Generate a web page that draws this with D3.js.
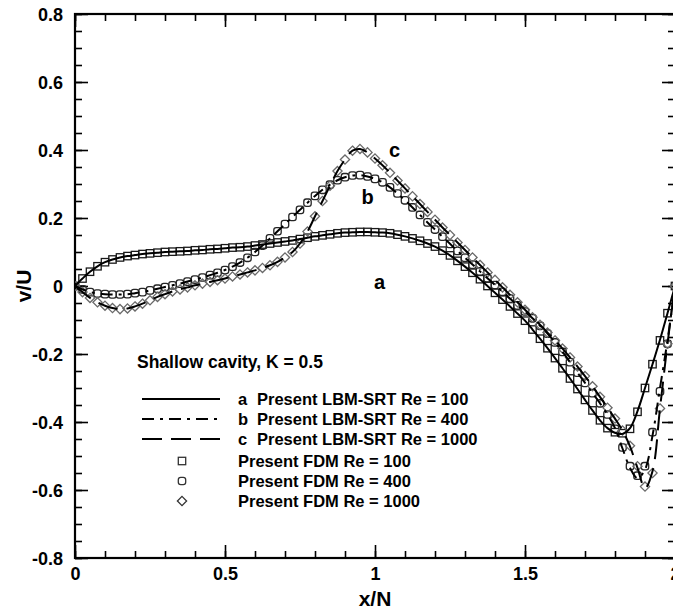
<!DOCTYPE html>
<html>
<head>
<meta charset="utf-8">
<script src="https://cdn.jsdelivr.net/npm/d3@7"></script>
<style>
  html, body { margin: 0; padding: 0; background: #fff; }
  svg { display: block; }
  text { font-family: "Liberation Sans", Arial, sans-serif; font-weight: bold; fill: #000; }
</style>
</head>
<body>
<script>
// x/N sample positions shared by every series (step 0.025 from 0 to 2)
const xGrid = d3.range(81).map(i => i * 0.025);

// Present FDM results, v/U at each xGrid position
const fdm100 = [
  0, 0.022, 0.042, 0.058, 0.070, 0.078, 0.084, 0.088, 0.091, 0.094,
  0.096, 0.098, 0.100, 0.101, 0.102, 0.103, 0.105, 0.106, 0.108, 0.109,
  0.111, 0.113, 0.114, 0.116, 0.119, 0.122, 0.125, 0.128, 0.131, 0.134,
  0.138, 0.142, 0.146, 0.149, 0.152, 0.155, 0.157, 0.158, 0.159, 0.159,
  0.158, 0.157, 0.155, 0.151, 0.146, 0.140, 0.133, 0.125, 0.116, 0.104,
  0.090, 0.074, 0.057, 0.039, 0.020, 0.000, -0.020, -0.040, -0.060, -0.081,
  -0.102, -0.128, -0.155, -0.183, -0.212, -0.242, -0.272, -0.303, -0.335, -0.366,
  -0.395, -0.418, -0.430, -0.433, -0.420, -0.370, -0.300, -0.230, -0.160, -0.080,
  0
];
const fdm400 = [
  0, -0.010, -0.018, -0.022, -0.024, -0.025, -0.025, -0.024, -0.021, -0.018,
  -0.013, -0.008, -0.003, 0.002, 0.007, 0.013, 0.019, 0.025, 0.032, 0.039,
  0.047, 0.057, 0.069, 0.083, 0.100, 0.119, 0.140, 0.161, 0.182, 0.203,
  0.224, 0.245, 0.265, 0.283, 0.298, 0.311, 0.320, 0.325, 0.326, 0.322,
  0.315, 0.305, 0.290, 0.272, 0.252, 0.231, 0.209, 0.187, 0.166, 0.145,
  0.124, 0.103, 0.083, 0.063, 0.043, 0.023, 0.003, -0.017, -0.037, -0.057,
  -0.075, -0.095, -0.117, -0.140, -0.166, -0.194, -0.224, -0.255, -0.285, -0.315,
  -0.345, -0.378, -0.420, -0.475, -0.530, -0.558, -0.530, -0.430, -0.310, -0.170,
  0
];
const fdm1000 = [
  0, -0.018, -0.035, -0.048, -0.058, -0.065, -0.068, -0.066, -0.060, -0.052,
  -0.042, -0.032, -0.024, -0.016, -0.010, -0.004, 0.002, 0.007, 0.012, 0.017,
  0.022, 0.028, 0.034, 0.040, 0.046, 0.053, 0.061, 0.071, 0.084, 0.100,
  0.125, 0.160, 0.205, 0.250, 0.295, 0.338, 0.372, 0.398, 0.403, 0.393,
  0.375, 0.355, 0.333, 0.310, 0.287, 0.264, 0.241, 0.218, 0.195, 0.172,
  0.150, 0.128, 0.106, 0.084, 0.062, 0.040, 0.018, -0.004, -0.026, -0.048,
  -0.070, -0.092, -0.114, -0.137, -0.160, -0.184, -0.210, -0.237, -0.265, -0.295,
  -0.326, -0.358, -0.390, -0.425, -0.470, -0.530, -0.590, -0.550, -0.360, -0.170,
  0
];

// Present LBM-SRT results, v/U at each xGrid position
const lbm100 = [
  0, 0.022, 0.042, 0.058, 0.070, 0.078, 0.084, 0.088, 0.091, 0.094,
  0.096, 0.098, 0.100, 0.101, 0.102, 0.103, 0.105, 0.106, 0.108, 0.109,
  0.111, 0.113, 0.114, 0.116, 0.119, 0.122, 0.125, 0.128, 0.131, 0.134,
  0.138, 0.142, 0.146, 0.149, 0.152, 0.155, 0.157, 0.158, 0.159, 0.159,
  0.158, 0.157, 0.155, 0.151, 0.146, 0.140, 0.133, 0.125, 0.116, 0.104,
  0.090, 0.074, 0.057, 0.039, 0.020, 0.000, -0.020, -0.040, -0.060, -0.081,
  -0.102, -0.128, -0.155, -0.183, -0.212, -0.242, -0.272, -0.303, -0.335, -0.366,
  -0.395, -0.418, -0.432, -0.435, -0.418, -0.368, -0.300, -0.230, -0.158, -0.080,
  0
];
const lbm400 = [
  0, -0.010, -0.018, -0.022, -0.024, -0.025, -0.025, -0.024, -0.021, -0.018,
  -0.013, -0.008, -0.003, 0.002, 0.007, 0.013, 0.019, 0.025, 0.032, 0.039,
  0.047, 0.057, 0.069, 0.083, 0.100, 0.119, 0.140, 0.161, 0.182, 0.203,
  0.224, 0.245, 0.265, 0.283, 0.298, 0.311, 0.320, 0.325, 0.326, 0.322,
  0.315, 0.305, 0.290, 0.272, 0.252, 0.231, 0.209, 0.187, 0.166, 0.145,
  0.124, 0.103, 0.083, 0.063, 0.043, 0.023, 0.003, -0.017, -0.037, -0.057,
  -0.075, -0.095, -0.117, -0.140, -0.166, -0.194, -0.224, -0.255, -0.285, -0.315,
  -0.345, -0.378, -0.418, -0.478, -0.535, -0.565, -0.540, -0.440, -0.300, -0.160,
  0
];
const lbm1000 = [
  0, -0.018, -0.035, -0.048, -0.058, -0.065, -0.068, -0.066, -0.060, -0.052,
  -0.042, -0.032, -0.024, -0.016, -0.010, -0.004, 0.002, 0.007, 0.012, 0.017,
  0.022, 0.028, 0.034, 0.040, 0.046, 0.053, 0.061, 0.071, 0.084, 0.100,
  0.125, 0.160, 0.205, 0.250, 0.295, 0.338, 0.372, 0.398, 0.403, 0.393,
  0.375, 0.355, 0.333, 0.310, 0.287, 0.264, 0.241, 0.218, 0.195, 0.172,
  0.150, 0.128, 0.106, 0.084, 0.062, 0.040, 0.018, -0.004, -0.026, -0.048,
  -0.070, -0.092, -0.114, -0.137, -0.160, -0.184, -0.210, -0.237, -0.265, -0.295,
  -0.326, -0.358, -0.390, -0.425, -0.472, -0.535, -0.595, -0.545, -0.360, -0.170,
  0
];

const xTicks = [0, 0.5, 1, 1.5, 2];
const xTickLabels = ["0", "0.5", "1", "1.5", "2"];
const yTicks = [-0.8, -0.6, -0.4, -0.2, 0, 0.2, 0.4, 0.6, 0.8];
const yTickLabels = ["-0.8", "-0.6", "-0.4", "-0.2", "0", "0.2", "0.4", "0.6", "0.8"];
const curveNames = ["a", "b", "c"];
const curveLabelAt = [[1.015, -0.01], [0.975, 0.24], [1.065, 0.38]]; // [x/N, v/U] of the a, b, c letters
const lbmLegend = ["Present LBM-SRT Re = 100", "Present LBM-SRT Re = 400", "Present LBM-SRT Re = 1000"];
const fdmLegend = ["Present FDM Re = 100", "Present FDM Re = 400", "Present FDM Re = 1000"];
const legendTitle = "Shallow cavity, K = 0.5";

const W = 673, H = 610;
const plot = { left: 75, top: 14, right: 675, bottom: 558 };

const svg = d3.select("body").append("svg").attr("width", W).attr("height", H);

const x = d3.scaleLinear().domain([0, 2]).range([plot.left, plot.right]);
const y = d3.scaleLinear().domain([-0.8, 0.8]).range([plot.bottom, plot.top]);

const lineStyles = [
  { dash: null },
  { dash: "12,6,3,6" },
  { dash: "20,9" }
];

const lbmSeries = [lbm100, lbm400, lbm1000];
const fdmSeries = [fdm100, fdm400, fdm1000];

// ---- axes: major + minor ticks pointing inward on all four sides
function tickAxis(axisFn, scale, values, size, labels) {
  const a = axisFn(scale).tickValues(values).tickSizeInner(size).tickSizeOuter(0);
  if (labels) a.tickFormat((d, i) => labels[i]); else a.tickFormat("");
  return a;
}
const xMinor = d3.range(0, 2.0001, 0.1).map(v => +v.toFixed(2));
const yMinor = d3.range(-0.8, 0.8001, 0.05).map(v => +v.toFixed(2));

const gx = svg.append("g").attr("transform", `translate(0,${plot.bottom})`);
gx.call(tickAxis(d3.axisBottom, x, xMinor, -7));
gx.append("g").call(tickAxis(d3.axisBottom, x, xTicks, -13, xTickLabels));
const gxt = svg.append("g").attr("transform", `translate(0,${plot.top})`);
gxt.call(tickAxis(d3.axisTop, x, xMinor, -7));
gxt.append("g").call(tickAxis(d3.axisTop, x, xTicks, -13));

const gy = svg.append("g").attr("transform", `translate(${plot.left},0)`);
gy.call(tickAxis(d3.axisLeft, y, yMinor, -7));
gy.append("g").call(tickAxis(d3.axisLeft, y, yTicks, -13, yTickLabels));
const gyr = svg.append("g").attr("transform", `translate(${plot.right},0)`);
gyr.call(tickAxis(d3.axisRight, y, yMinor, -7));
gyr.append("g").call(tickAxis(d3.axisRight, y, yTicks, -13));

svg.selectAll(".tick line").attr("stroke", "#000").attr("stroke-width", 1.6);
svg.selectAll(".domain").remove();
svg.selectAll(".tick text").style("font-size", "18px").attr("fill", "#000");
gx.selectAll(".tick text").attr("dy", null).attr("y", 22);
gy.selectAll(".tick text").attr("x", -12).attr("dy", "0.35em");

// frame
svg.append("rect")
  .attr("x", plot.left).attr("y", plot.top)
  .attr("width", plot.right - plot.left).attr("height", plot.bottom - plot.top)
  .attr("fill", "none").attr("stroke", "#000").attr("stroke-width", 2.2);

// axis titles
svg.append("text").attr("x", (plot.left + 675) / 2).attr("y", 606)
  .attr("text-anchor", "middle").style("font-size", "21px").text("x/N");
svg.append("text").attr("transform", `translate(31,${y(0)}) rotate(-90)`)
  .attr("text-anchor", "middle").style("font-size", "21px").text("v/U");

// ---- markers (FDM): open squares, rounded circles, open diamonds
const markerStroke = ["#1a1a1a", "#262626", "#6a6a6a"];
function drawMarker(g, kind, cx, cy, color) {
  if (kind === 0) {
    g.append("rect").attr("x", cx - 3.7).attr("y", cy - 3.7).attr("width", 7.4).attr("height", 7.4)
      .attr("fill", "none").attr("stroke", color).attr("stroke-width", 1.3);
  } else if (kind === 1) {
    g.append("rect").attr("x", cx - 3.7).attr("y", cy - 3.7).attr("width", 7.4).attr("height", 7.4)
      .attr("rx", 2.4).attr("fill", "none").attr("stroke", color).attr("stroke-width", 1.3);
  } else {
    const r = 4.6;
    g.append("path").attr("d", `M${cx},${cy - r}L${cx + r},${cy}L${cx},${cy + r}L${cx - r},${cy}Z`)
      .attr("fill", "none").attr("stroke", color).attr("stroke-width", 1.3);
  }
}

svg.append("clipPath").attr("id", "plotclip").append("rect")
  .attr("x", plot.left).attr("y", plot.top)
  .attr("width", plot.right - plot.left).attr("height", plot.bottom - plot.top);

const data = svg.append("g").attr("clip-path", "url(#plotclip)");

fdmSeries.forEach((vals, k) => {
  const g = data.append("g");
  vals.forEach((v, i) => drawMarker(g, k, x(xGrid[i]), y(v), markerStroke[k]));
});

// ---- lines (LBM-SRT)
const line = d3.line().x((d, i) => x(xGrid[i])).y(d => y(d)).curve(d3.curveCatmullRom.alpha(0.5));
lbmSeries.forEach((vals, k) => {
  data.append("path").datum(vals).attr("d", line)
    .attr("fill", "none").attr("stroke", "#000").attr("stroke-width", 2)
    .attr("stroke-dasharray", lineStyles[k].dash);
});

// curve letters
curveNames.forEach((n, k) => {
  svg.append("text").attr("x", x(curveLabelAt[k][0])).attr("y", y(curveLabelAt[k][1]))
    .attr("text-anchor", "middle").style("font-size", "20px").text(n);
});

// ---- legend
svg.append("text").attr("x", 137).attr("y", 368).style("font-size", "17.5px").text(legendTitle);
const rowY = [399, 419, 439, 461, 481, 501];
lbmLegend.forEach((t, k) => {
  svg.append("line").attr("x1", 142).attr("x2", 220).attr("y1", rowY[k]).attr("y2", rowY[k])
    .attr("stroke", "#000").attr("stroke-width", 2).attr("stroke-dasharray", lineStyles[k].dash);
  svg.append("text").attr("x", 238).attr("y", rowY[k]).attr("dy", "0.35em")
    .style("font-size", "16.5px").text(curveNames[k]);
  svg.append("text").attr("x", 257).attr("y", rowY[k]).attr("dy", "0.35em")
    .style("font-size", "16.5px").text(t);
});
fdmLegend.forEach((t, k) => {
  const g = svg.append("g");
  drawMarker(g, k, 182, rowY[k + 3], "#333");
  svg.append("text").attr("x", 238).attr("y", rowY[k + 3]).attr("dy", "0.35em")
    .style("font-size", "16.5px").text(t);
});
</script>
</body>
</html>
